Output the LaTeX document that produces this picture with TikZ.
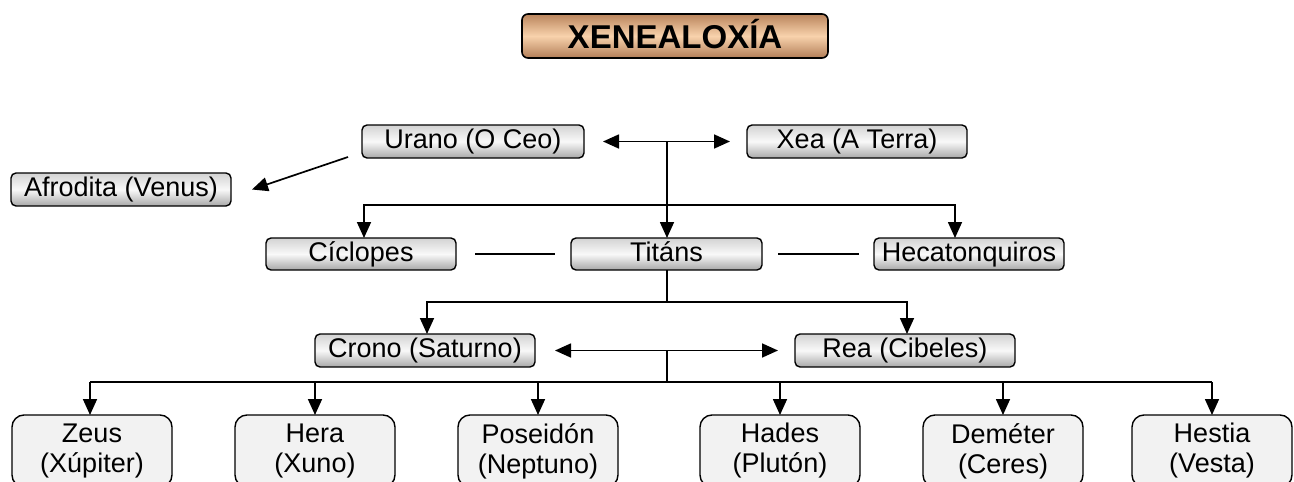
\documentclass[tikz,border=0pt]{standalone}
\usepackage{fontspec}
\setmainfont{Liberation Sans}
\usetikzlibrary{arrows.meta,calc}
\begin{document}
\begin{tikzpicture}[x=1pt,y=-1pt,
  every node/.style={inner sep=0pt,outer sep=0pt},
  conn/.style={line width=1.7pt,black},
  tip/.tip={Triangle[length=16pt,width=14pt]},
  arr/.style={conn,-tip},
  darr/.style={conn,tip-tip},
  gbox/.style={draw=black,line width=1.4pt,rounded corners=5pt,
     top color=gray!35,bottom color=gray!68,middle color=gray!5,
     minimum height=33pt,text height=19pt,text depth=5pt,
     font=\fontsize{27}{30}\selectfont},
  bbox/.style={draw=black,line width=1.4pt,rounded corners=12pt,fill=gray!10,
     minimum width=160pt,minimum height=72pt,align=center,
     font=\fontsize{27}{30}\selectfont},
  tbox/.style={draw=black,line width=1.6pt,rounded corners=6pt,
     top color={rgb,255:red,185;green,132;blue,92},
     bottom color={rgb,255:red,178;green,126;blue,88},
     middle color={rgb,255:red,248;green,210;blue,172},
     minimum width=306pt,minimum height=44pt,text height=24pt,text depth=0pt,
     font=\fontsize{33}{36}\selectfont\bfseries}]
\useasboundingbox (0,0) rectangle (1294,482);

% title
\node[tbox] (title) at (675,36) {XENEALOXÍA};

% level 1
\node[gbox,minimum width=222pt] (urano) at (473,141.5) {Urano (O Ceo)};
\node[gbox,minimum width=220pt] (xea) at (857,141.5) {Xea (A Terra)};
\node[gbox,minimum width=220pt] (afro) at (121,189.5) {Afrodita (Venus)};

% level 2
\node[gbox,minimum width=190pt,minimum height=32pt] (cic) at (361,254) {Cíclopes};
\node[gbox,minimum width=191pt,minimum height=32pt] (tit) at (666.5,254) {Titáns};
\node[gbox,minimum width=190pt,minimum height=32pt] (hec) at (969,254) {Hecatonquiros};

% level 3
\node[gbox,minimum width=220pt] (cro) at (425,350.5) {Crono (Saturno)};
\node[gbox,minimum width=220pt] (rea) at (905,350.5) {Rea (Cibeles)};

% level 4
\node[bbox] (zeus) at (92,451) {Zeus\\(Xúpiter)};
\node[bbox] (hera) at (315,451) {Hera\\(Xuno)};
\node[bbox] (pose) at (538,451) {Poseidón\\(Neptuno)};
\node[bbox] (hades) at (780,451) {Hades\\(Plutón)};
\node[bbox] (deme) at (1003,451) {Deméter\\(Ceres)};
\node[bbox] (hest) at (1212,451) {Hestia\\(Vesta)};

% Urano <-> Xea
\draw[darr] ($(urano.east)+(19,0)$) -- ($(xea.west)+(-17,0)$);
\coordinate (m1) at (667,141.5);
\coordinate (b1) at (667,205);
\draw[arr] (m1) -- (b1) -- (tit.north -| m1);
\coordinate (bl1) at (364,205);
\coordinate (br1) at (955,205);
\draw[arr] (b1) -- (bl1) -- (cic.north -| bl1);
\draw[arr] (b1) -- (br1) -- (hec.north -| br1);

% Urano -> Afrodita
\draw[arr] ($(urano.south west)+(-14,-1)$) -- ($(afro.east)+(21,0)$);

% Cíclopes -- Titáns -- Hecatonquiros
\draw[conn] ($(cic.east)+(19,0)$) -- ($(tit.west)+(-16,0)$);
\draw[conn] ($(tit.east)+(16,0)$) -- ($(hec.west)+(-15,0)$);

% Titáns -> Crono, Rea
\coordinate (b2) at (667,302);
\coordinate (bl2) at (427,302);
\coordinate (br2) at (907,302);
\draw[conn] (tit.south -| b2) -- (b2);
\draw[arr] (b2) -- (bl2) -- (cro.north -| bl2);
\draw[arr] (b2) -- (br2) -- (rea.north -| br2);

% Crono <-> Rea
\draw[darr] ($(cro.east)+(20,0)$) -- ($(rea.west)+(-17,0)$);
\coordinate (m3) at (667,350.5);
\coordinate (b3) at (667,382);
\draw[conn] (m3) -- (b3);
\coordinate (c1) at (90,382);
\coordinate (c6) at (1212,382);
\draw[conn] (c1) -- (c6);
\draw[arr] (c1) -- (zeus.north -| c1);
\draw[arr] (hera.north |- c1) -- (hera.north);
\draw[arr] (pose.north |- c1) -- (pose.north);
\draw[arr] (hades.north |- c1) -- (hades.north);
\draw[arr] (deme.north |- c1) -- (deme.north);
\draw[arr] (c6) -- (hest.north);
\end{tikzpicture}
\end{document}
